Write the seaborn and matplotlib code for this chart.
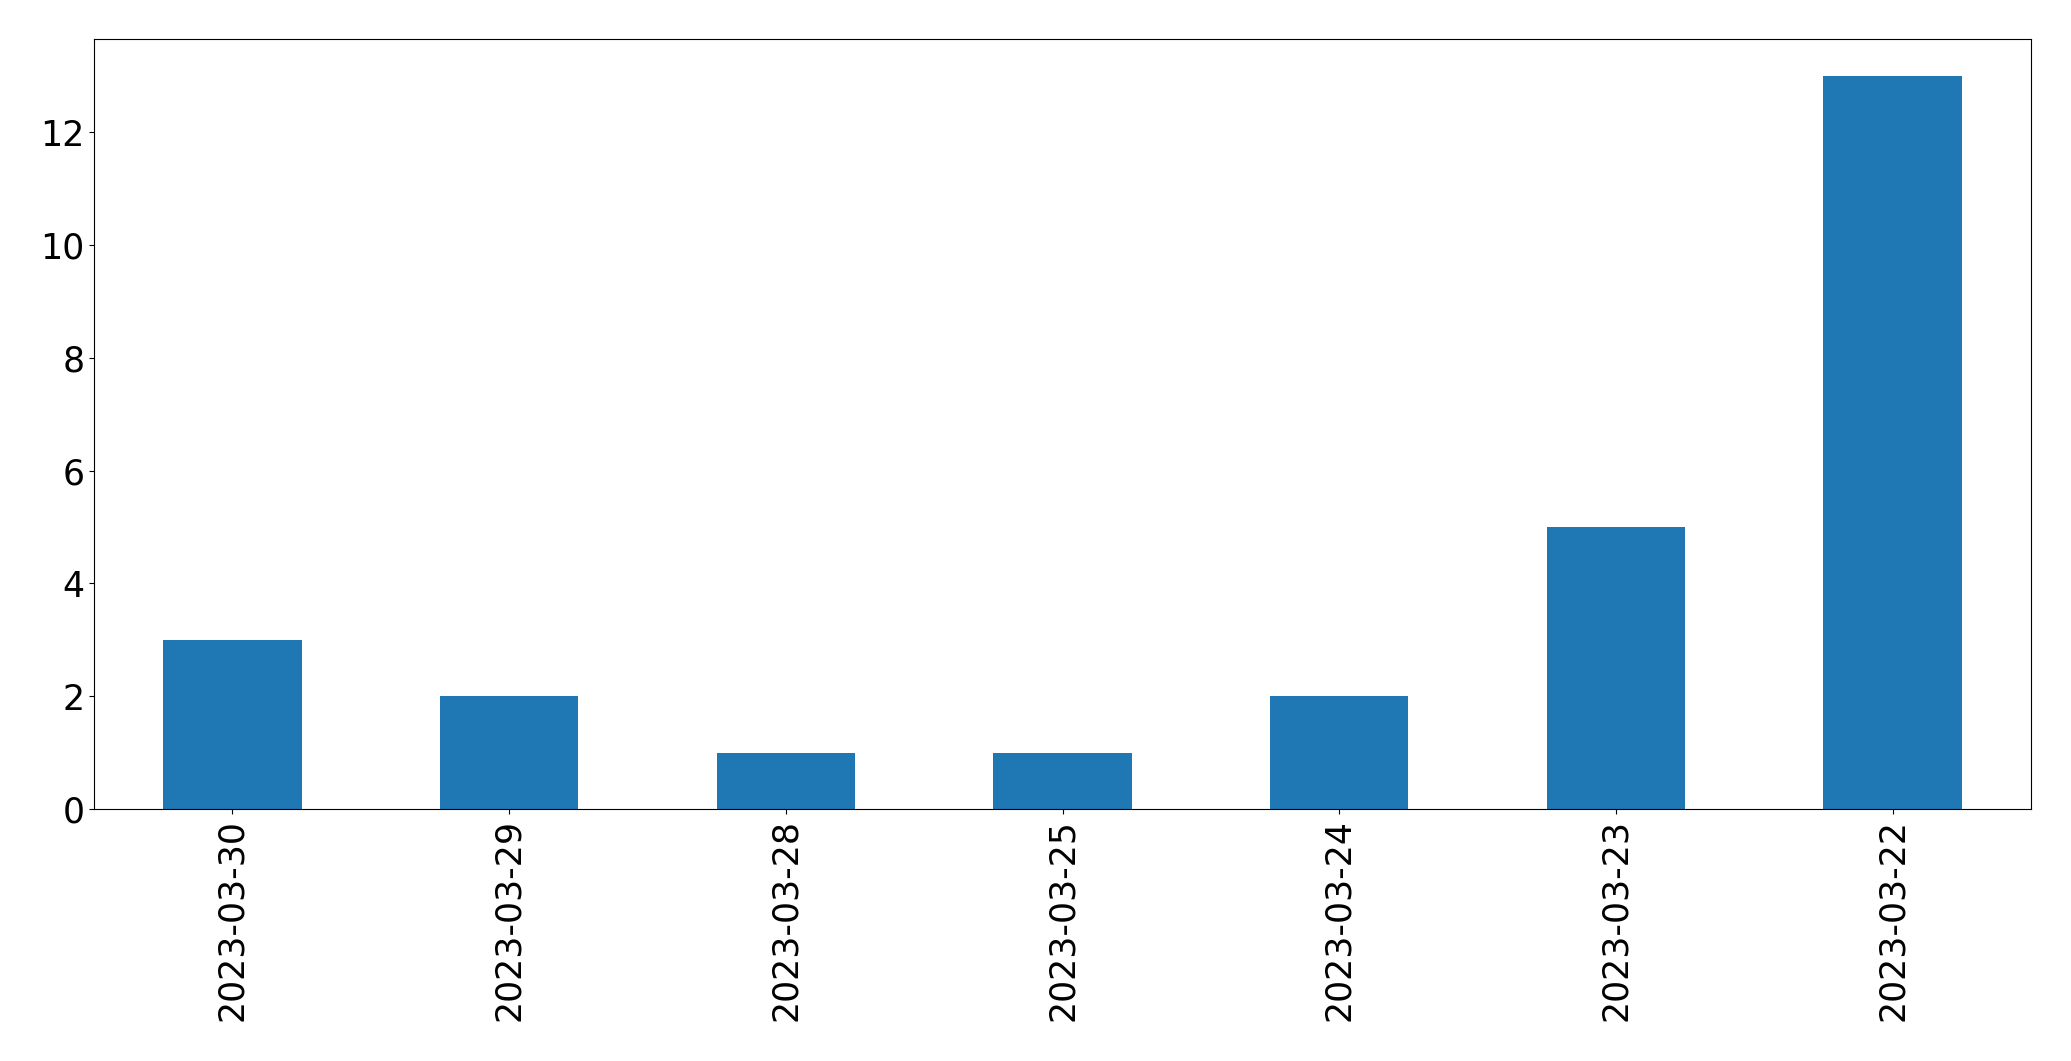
import matplotlib
matplotlib.use("Agg")
import matplotlib.pyplot as plt
import seaborn as sns
import pandas as pd

dates = ["2023-03-30", "2023-03-29", "2023-03-28", "2023-03-25",
         "2023-03-24", "2023-03-23", "2023-03-22"]
counts = [3, 2, 1, 1, 2, 5, 13]

df = pd.DataFrame({"date": dates, "count": counts})

fig = plt.figure(figsize=(20.71, 10.61), dpi=100)
ax = fig.add_axes([94/2071, 1-809/1061, (2031-94)/2071, (809-39)/1061])
sns.barplot(data=df, x="date", y="count", order=dates, color="#1f77b4",
            saturation=1, width=0.5, linewidth=0, ax=ax)
ax.set_xlim(-0.5, 6.5)
ax.set_ylim(0, 13 * 1.05)
ax.set_xlabel("")
ax.set_ylabel("")
ax.tick_params(axis="both", labelsize=25)
ax.tick_params(axis="x", labelrotation=90)
fig.savefig("out.png", dpi=100)
